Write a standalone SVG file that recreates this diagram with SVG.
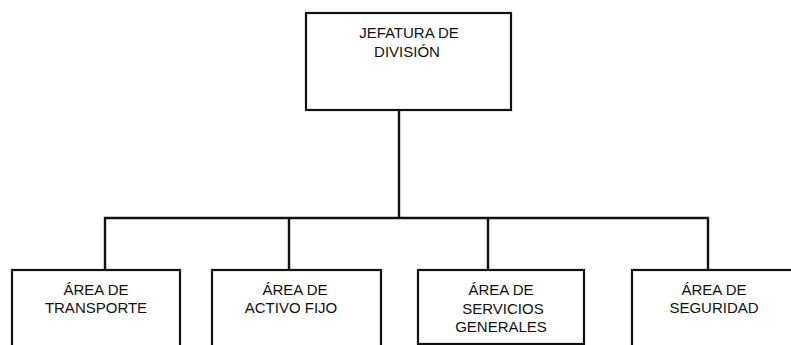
<svg xmlns="http://www.w3.org/2000/svg" width="791" height="345" viewBox="0 0 791 345">
<style>
.box{fill:#fff;stroke:#111;stroke-width:2.2}
.ln{fill:none;stroke:#111;stroke-width:2.4}
text{font-family:"Liberation Sans",Arial,sans-serif;font-size:15px;fill:#111;text-anchor:middle}
</style>
<rect width="791" height="345" fill="#fff"/>
<g id="connectors">
<line class="ln" x1="399" y1="110" x2="399" y2="218"/>
<line class="ln" x1="104" y1="218" x2="709" y2="218"/>
<line class="ln" x1="105" y1="217" x2="105" y2="270"/>
<line class="ln" x1="289" y1="217" x2="289" y2="270"/>
<line class="ln" x1="488" y1="217" x2="488" y2="270"/>
<line class="ln" x1="708" y1="217" x2="708" y2="270"/>
</g>
<g id="jefatura">
<rect class="box" x="306" y="13" width="205" height="97"/>
<text x="409" y="38">JEFATURA DE</text>
<text x="407" y="57">DIVISIÓN</text>
</g>
<g id="transporte">
<rect class="box" x="12" y="270" width="168" height="90"/>
<text x="96" y="295">ÁREA DE</text>
<text x="96" y="313">TRANSPORTE</text>
</g>
<g id="activo">
<rect class="box" x="212" y="270" width="169" height="90"/>
<text x="295" y="295">ÁREA DE</text>
<text x="291" y="313">ACTIVO FIJO</text>
</g>
<g id="servicios">
<rect class="box" x="418" y="270" width="166" height="74"/>
<text x="501" y="295">ÁREA DE</text>
<text x="503" y="314">SERVICIOS</text>
<text x="501" y="332">GENERALES</text>
</g>
<g id="seguridad">
<rect class="box" x="632" y="270" width="180" height="90"/>
<text x="714" y="295">ÁREA DE</text>
<text x="714" y="313">SEGURIDAD</text>
</g>
</svg>
